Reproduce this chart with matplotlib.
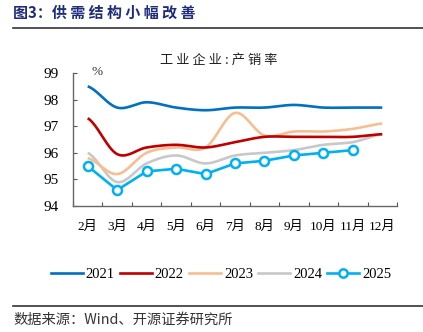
import numpy as np
import matplotlib
matplotlib.use("Agg")
import matplotlib.pyplot as plt
from matplotlib.lines import Line2D

plt.rcParams['font.family'] = ['Liberation Serif', 'Noto Sans CJK SC', 'DejaVu Sans']

months = ["2月", "3月", "4月", "5月", "6月", "7月", "8月", "9月", "10月", "11月", "12月"]
y2021 = [98.5, 97.7, 97.9, 97.7, 97.6, 97.7, 97.7, 97.8, 97.7, 97.7, 97.7]
y2022 = [97.3, 95.95, 96.2, 96.3, 96.2, 96.4, 96.6, 96.6, 96.6, 96.6, 96.7]
y2023 = [95.8, 95.2, 96.0, 96.2, 96.2, 97.5, 96.65, 96.8, 96.8, 96.9, 97.1]
y2024 = [96.0, 94.9, 95.6, 95.9, 95.6, 95.9, 96.0, 96.1, 96.3, 96.4, 96.7]
y2025 = [95.5, 94.6, 95.3, 95.4, 95.2, 95.6, 95.7, 95.9, 96.0, 96.1]

colors = {"2021": "#0070C0", "2022": "#C00000", "2023": "#F7BE94",
          "2024": "#C8C8C8", "2025": "#00B0F0"}


def smooth(xs, ys, n=20):
    """Catmull-Rom style smoothing through the given points."""
    xs = np.asarray(xs, float)
    ys = np.asarray(ys, float)
    px = np.concatenate([[2 * xs[0] - xs[1]], xs, [2 * xs[-1] - xs[-2]]])
    py = np.concatenate([[ys[0]], ys, [ys[-1]]])
    ox, oy = [], []
    t = np.linspace(0, 1, n, endpoint=False)
    for i in range(1, len(px) - 2):
        p0, p1, p2, p3 = (np.array([px[j], py[j]]) for j in range(i - 1, i + 3))
        c1 = p1 + (p2 - p0) / 6
        c2 = p2 - (p3 - p1) / 6
        b = ((1 - t) ** 3)[:, None] * p1 + (3 * (1 - t) ** 2 * t)[:, None] * c1 \
            + (3 * (1 - t) * t ** 2)[:, None] * c2 + (t ** 3)[:, None] * p2
        ox.extend(b[:, 0]); oy.extend(b[:, 1])
    ox.append(xs[-1]); oy.append(ys[-1])
    return np.array(ox), np.array(oy)


fig = plt.figure(figsize=(4.23, 3.32), dpi=100)
ax = fig.add_axes([73 / 423, 1 - 206 / 332, 324 / 423, 133 / 332])

x = np.arange(len(months))
lw = 1.9
for name, ys in [("2024", y2024), ("2023", y2023), ("2022", y2022), ("2021", y2021)]:
    sx, sy = smooth(x, ys)
    ax.plot(sx, sy, color=colors[name], lw=lw, solid_capstyle='butt', zorder=2)

ax.plot(x[:len(y2025)], y2025, color=colors["2025"], lw=lw, marker='o', ms=6.5,
        mfc='white', mec=colors["2025"], mew=1.8, zorder=3)

ax.set_xlim(-0.5, len(months) - 0.5)
ax.set_ylim(94, 99)
ax.set_yticks([94, 95, 96, 97, 98, 99])
ax.set_xticks(np.arange(-0.5, len(months)))
ax.set_xticklabels([])
ax.set_xticks(x, minor=True)
ax.set_xticklabels(months, minor=True, fontsize=9.5)
ax.tick_params(axis='x', which='major', direction='in', length=3, color='#555555')
ax.tick_params(axis='x', which='minor', length=0, pad=11)
ax.tick_params(axis='y', direction='in', length=3, color='#555555', labelsize=11, pad=10)
for s in ['top', 'right']:
    ax.spines[s].set_visible(False)
for s in ['left', 'bottom']:
    ax.spines[s].set_color('#666666')
    ax.spines[s].set_linewidth(1.0)

fig.text(97 / 423, 1 - 72 / 332, "%", fontsize=9.5, color='#333333', ha='center', va='center')
fig.text(219 / 423, 1 - 60 / 332, "工 业 企 业 : 产 销 率", fontsize=9.5, color='#222222',
         ha='center', va='center', family=['Noto Sans CJK SC', 'DejaVu Sans'])

# header
fig.text(13 / 423, 1 - 13 / 332, "图3：供 需 结 构 小 幅 改 善", fontsize=10.8, fontweight='bold',
         color='#1F2C7C', ha='left', va='center', family=['Noto Sans CJK SC', 'DejaVu Sans'])
fig.add_artist(Line2D([13 / 423, 1.0], [1 - 28 / 332] * 2, color='#333333', lw=1.2))
fig.add_artist(Line2D([13 / 423, 1.0], [1 - 306 / 332] * 2, color='#333333', lw=1.2))

# legend
handles = [Line2D([], [], color=colors[k], lw=lw) for k in ["2021", "2022", "2023", "2024"]]
handles.append(Line2D([], [], color=colors["2025"], lw=lw, marker='o', ms=6,
                      mfc='white', mec=colors["2025"], mew=1.8))
fig.legend(handles, ["2021", "2022", "2023", "2024", "2025"], loc='center',
           bbox_to_anchor=(221 / 423, 1 - 274 / 332), ncol=5, frameon=False,
           fontsize=10.5, handlelength=2.2, handletextpad=0.2, columnspacing=0.35)

fig.text(13 / 423, 1 - 320 / 332, "数据来源：Wind、开源证券研究所", fontsize=10.3, color='#333333',
         ha='left', va='center', family=['Noto Sans CJK SC', 'DejaVu Sans'])

fig.savefig("out.png", dpi=100)
